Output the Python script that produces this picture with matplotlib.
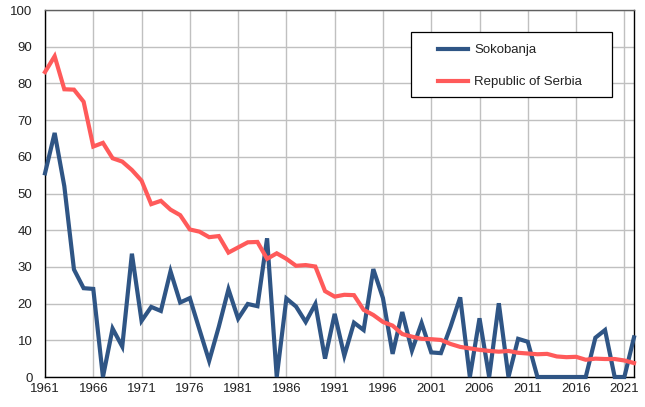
import matplotlib
matplotlib.use("Agg")
import matplotlib.pyplot as plt
from matplotlib.patches import Rectangle

plt.rcParams['font.family'] = ['Liberation Sans', 'DejaVu Sans']

years = list(range(1961, 2023))
sokobanja = [55.5, 66.5, 52, 29.3, 24.2, 24, 0, 13.2, 8.3, 33.6,
             15.3, 19.1, 18, 28.8, 20.3, 21.5, 12.9, 4.4, 13.7, 23.9,
             15.9, 19.9, 19.3, 37.8, 0, 21.4, 19.2, 15, 19.9, 5,
             17.2, 5.8, 14.8, 12.8, 29.4, 21.5, 6.3, 17.7, 7.2, 14.7,
             6.7, 6.5, 13.7, 21.7, 0, 16, 0, 20.1, 0, 10.4,
             9.6, 0, 0, 0, 0, 0, 0, 10.7, 12.8, 0,
             0, 10.8]
serbia = [83.1, 87.4, 78.4, 78.3, 75, 62.8, 63.8, 59.6, 58.7, 56.4,
          53.5, 47.1, 48, 45.6, 44.1, 40.2, 39.6, 38.1, 38.4, 33.9,
          35.3, 36.7, 36.8, 32.2, 33.7, 32.2, 30.3, 30.5, 30.1, 23.4,
          21.9, 22.4, 22.3, 18.3, 16.9, 15, 14, 11.7, 11, 10.4,
          10.3, 10.1, 9, 8.2, 7.8, 7.4, 7.1, 6.9, 7.1, 6.6,
          6.4, 6.2, 6.3, 5.6, 5.4, 5.5, 4.7, 5.0, 4.9, 4.9,
          4.5, 3.8]
xticks = list(range(1961, 2022, 5))
yticks = list(range(0, 101, 10))

fig = plt.figure(figsize=(6.45, 4.07), dpi=100)
ax = fig.add_axes([45/645, 30/407, 589/645, 367/407])

ax.plot(years, sokobanja, color='#2f5585', lw=3.0, label='Sokobanja',
        solid_joinstyle='miter', zorder=3, clip_on=False)
ax.plot(years, serbia, color='#ff5a5a', lw=3.0, label='Republic of Serbia',
        solid_joinstyle='miter', zorder=3, clip_on=False)

ax.set_xlim(1961, 2022)
ax.set_ylim(0, 100)
ax.set_xticks(xticks)
ax.set_yticks(yticks)
ax.grid(True, color='#c0c0c0', lw=1.0)
ax.set_axisbelow(True)
ax.tick_params(length=0, labelsize=9.5, colors='#222222')
ax.tick_params(axis='y', pad=9)
ax.tick_params(axis='x', pad=4)
for s in ax.spines.values():
    s.set_color('#000000')
    s.set_linewidth(1.0)
ax.spines['top'].set_color('#606060')

frame = Rectangle((0.621, 0.763), 0.342, 0.177, transform=ax.transAxes,
                  facecolor='white', edgecolor='#000000', lw=0.9, zorder=5)
ax.add_patch(frame)

leg = ax.legend(loc='upper left', bbox_to_anchor=(0.667, 0.907),
                fontsize=9.5, frameon=False, borderpad=0, labelspacing=1.5,
                handlelength=2.3, handletextpad=0.45, borderaxespad=0)
leg.set_zorder(6)
for t in leg.get_texts():
    t.set_color('#222222')

fig.savefig('out.png', dpi=100)
